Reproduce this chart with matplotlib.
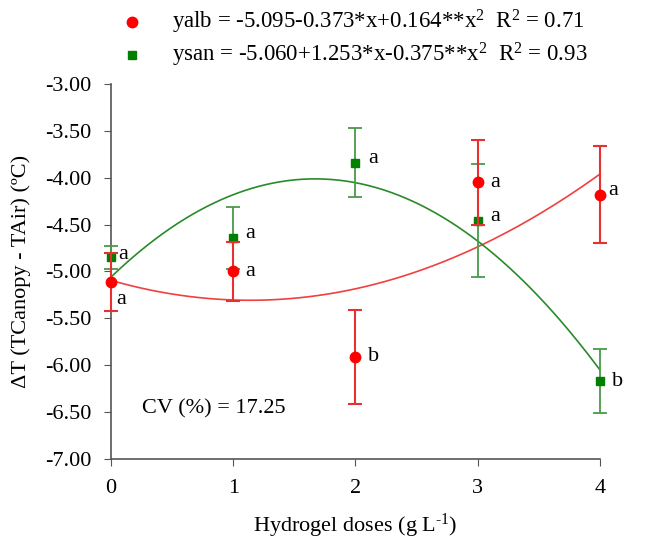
import numpy as np
import matplotlib
matplotlib.use("Agg")
import matplotlib.pyplot as plt

plt.rcParams['font.family'] = ['Liberation Serif', 'DejaVu Serif']
plt.rcParams['mathtext.fontset'] = 'custom'
plt.rcParams['mathtext.rm'] = 'Liberation Serif'
plt.rcParams['mathtext.it'] = 'Liberation Serif:italic'

# data
doses = [0, 1, 2, 3, 4]
alb_mean = [-5.11, -5.00, -5.91, -4.05, -4.18]
alb_err = [0.31, 0.31, 0.50, 0.45, 0.52]
san_mean = [-4.85, -4.64, -3.84, -4.46, -6.17]
san_err = [0.12, 0.33, 0.37, 0.60, 0.34]
alb_letters = ['a', 'a', 'b', 'a', 'a']
san_letters = ['a', 'a', 'a', 'a', 'b']

# regression coefficients (c0, c1, c2)
alb_coef = [-5.095, -0.373, 0.164]
san_coef = [-5.060, 1.253, -0.375]

red = '#ff0000'
green = '#007f00'

fig = plt.figure(figsize=(6.57, 5.44), dpi=100)
ax = fig.add_axes([0.169, 0.156, 0.744, 0.690])

# fitted curves
xx = np.linspace(0, 4, 200)
ax.plot(xx, alb_coef[0] + alb_coef[1]*xx + alb_coef[2]*xx**2, color='#f04040', lw=1.2, zorder=2)
ax.plot(xx, san_coef[0] + san_coef[1]*xx + san_coef[2]*xx**2, color='#2a8a2a', lw=1.2, zorder=2)

# means with error bars
ax.errorbar(doses, san_mean, yerr=san_err, fmt='s', color=green, ecolor='#4a9a4a',
            ms=6, capsize=5, elinewidth=1.3, capthick=1.3, zorder=3, clip_on=False)
ax.errorbar(doses, alb_mean, yerr=alb_err, fmt='o', color=red, ecolor='#e83030',
            ms=7.5, capsize=5, elinewidth=1.5, capthick=1.5, zorder=4, clip_on=False)

# letters next to the points
alb_off = [(4, -13), (9, 0), (9, 0), (9, 0), (6, 3)]
san_off = [(5, 2), (9, 3), (9, 3), (9, 3), (9, 0)]
for x, y, t, o in zip(doses, alb_mean, alb_letters, alb_off):
    ax.annotate(t, (x, y), xytext=o, textcoords='offset points', fontsize=16, va='center')
for x, y, t, o in zip(doses, san_mean, san_letters, san_off):
    ax.annotate(t, (x, y), xytext=o, textcoords='offset points', fontsize=16, va='center')

ax.text(0.25, -6.46, 'CV (%) = 17.25', fontsize=16, va='center')

ax.set_xlim(0, 4)
ax.set_ylim(-7, -3)
ax.set_xticks(doses)
ax.set_yticks(np.arange(-7, -2.99, 0.5))
ax.set_yticklabels(['%.2f' % v for v in np.arange(-7, -2.99, 0.5)])
ax.tick_params(labelsize=16, direction='out', length=5, color='#555555')
ax.tick_params(axis='y', pad=9)
ax.tick_params(axis='x', pad=9)
for s in ['top', 'right']:
    ax.spines[s].set_visible(False)
for s in ['left', 'bottom']:
    ax.spines[s].set_color('#555555')
    ax.spines[s].set_linewidth(1.2)

ax.set_xlabel('Hydrogel doses (g L$^{\\text{-1}}$)', fontsize=16, labelpad=10)
ax.set_ylabel('ΔT (TCanopy - TAir) (ºC)', fontsize=16, labelpad=10)

# legend above the axes
fig.lines.append(plt.Line2D([132/657], [1-22/544], marker='o', color=red, ms=7.5, transform=fig.transFigure))
fig.lines.append(plt.Line2D([132/657], [1-55/544], marker='s', color=green, ms=6, transform=fig.transFigure))
fig.text(172/657, 1-22/544, 'yalb = -5.095-0.373*x+0.164**x$^2$  R$^2$ = 0.71', fontsize=16.5, va='center')
fig.text(172/657, 1-55/544, 'ysan = -5.060+1.253*x-0.375**x$^2$  R$^2$ = 0.93', fontsize=16.5, va='center')

fig.savefig('out.png', dpi=100)
